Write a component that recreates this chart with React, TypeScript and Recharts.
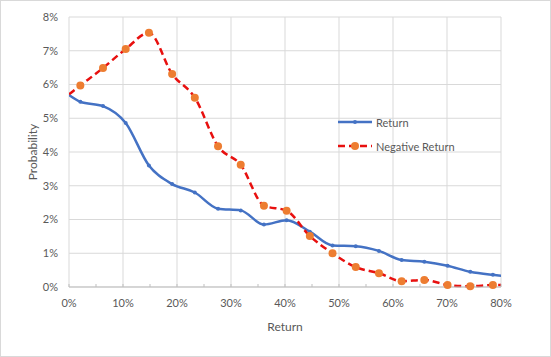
import { LineChart, Line, XAxis, YAxis, CartesianGrid, ReferenceLine, Label } from 'recharts'

// return (x, in %) shared by both series
const returnPct = [0, 2.1, 6.3, 10.5, 14.8, 19.1, 23.3, 27.6, 31.8, 36.1, 40.3, 44.6, 48.8, 53.1, 57.4, 61.6, 65.8, 70.1, 74.3, 78.5, 82.8]
// probability (%) of each return
const returnProb = [5.69, 5.49, 5.36, 4.86, 3.6, 3.05, 2.8, 2.32, 2.27, 1.85, 1.98, 1.64, 1.23, 1.21, 1.07, 0.8, 0.75, 0.63, 0.45, 0.36, 0.3]
const negativeProb = [5.71, 5.97, 6.49, 7.05, 7.53, 6.31, 5.61, 4.17, 3.62, 2.41, 2.26, 1.51, 1.0, 0.59, 0.41, 0.17, 0.21, 0.06, 0.02, 0.06, 0.05]

const xTicks = [0, 5, 10, 15, 20, 25, 30, 35, 40, 45, 50, 55, 60, 65, 70, 75, 80]
const xGrid = [0, 10, 20, 30, 40, 50, 60, 70, 80]
const yTicks = [0, 1, 2, 3, 4, 5, 6, 7, 8]

const data = returnPct.map((x, i) => ({ x, ret: returnProb[i], neg: negativeProb[i] }))

const FONT = 'Lato, sans-serif'
const TEXT = '#595959'
const BLUE = '#4472c4'
const RED = '#e8100f'
const ORANGE = '#ed7d31'

const blueDot = (p: any) =>
  p.index === 0 ? <g key={p.key} /> : <circle key={p.key} cx={p.cx} cy={p.cy} r={2} fill={BLUE} />
const orangeDot = (p: any) =>
  p.index === 0 ? <g key={p.key} /> : <circle key={p.key} cx={p.cx} cy={p.cy} r={4} fill={ORANGE} />

function LegendBox() {
  const row = { display: 'flex', alignItems: 'center', height: 24 }
  const txt = { fontFamily: FONT, fontSize: 11, color: TEXT, marginLeft: 4 }
  return (
    <div style={{ position: 'absolute', left: 338, top: 110 }}>
      <div style={row}>
        <svg width={34} height={10}>
          <line x1={0} y1={5} x2={34} y2={5} stroke={BLUE} strokeWidth={2.5} />
          <circle cx={17} cy={5} r={2} fill={BLUE} />
        </svg>
        <span style={txt}>Return</span>
      </div>
      <div style={row}>
        <svg width={34} height={10}>
          <line x1={0} y1={5} x2={34} y2={5} stroke={RED} strokeWidth={2.5} strokeDasharray="7 4" />
          <circle cx={17} cy={5} r={4} fill={ORANGE} />
        </svg>
        <span style={txt}>Negative Return</span>
      </div>
    </div>
  )
}

export default function App() {
  return (
    <div style={{ position: 'absolute', left: 0, top: 0, width: 551, height: 357, background: '#fff' }}>
      <LineChart width={551} height={357} data={data} margin={{ top: 17, right: 50, bottom: 20, left: 1 }}>
        <CartesianGrid vertical={false} stroke="#d9d9d9" />
        {xGrid.map((v) => (
          <ReferenceLine key={v} x={v} stroke="#d9d9d9" />
        ))}
        <XAxis
          type="number"
          dataKey="x"
          domain={[0, 80]}
          allowDataOverflow
          ticks={xTicks}
          interval={0}
          tickFormatter={(v: number) => (v % 10 === 0 ? `${v}%` : '')}
          tickSize={-3}
          tickMargin={15}
          stroke="#bfbfbf"
          tick={{ fill: TEXT, fontSize: 11, fontFamily: FONT }}
          height={50}
        >
          <Label value="Return" position="insideBottom" offset={6} fill={TEXT} fontSize={12} fontFamily={FONT} />
        </XAxis>
        <YAxis
          type="number"
          domain={[0, 8]}
          ticks={yTicks}
          tickFormatter={(v: number) => `${v}%`}
          axisLine={false}
          tickLine={false}
          tickSize={0}
          tickMargin={11}
          width={68}
          tick={{ fill: TEXT, fontSize: 11, fontFamily: FONT }}
        >
          <Label value="Probability" angle={-90} position="center" dx={-2} fill={TEXT} fontSize={12} fontFamily={FONT} />
        </YAxis>
        <Line
          type="monotone"
          dataKey="ret"
          stroke={BLUE}
          strokeWidth={2.5}
          dot={blueDot}
          activeDot={false}
          isAnimationActive={false}
        />
        <Line
          type="monotone"
          dataKey="neg"
          stroke={RED}
          strokeWidth={2.5}
          strokeDasharray="7 4"
          dot={orangeDot}
          activeDot={false}
          isAnimationActive={false}
        />
      </LineChart>
      <LegendBox />
      <div
        style={{
          position: 'absolute',
          inset: 0,
          border: '1px solid #d9d9d9',
          boxSizing: 'border-box',
          pointerEvents: 'none',
        }}
      />
    </div>
  )
}
